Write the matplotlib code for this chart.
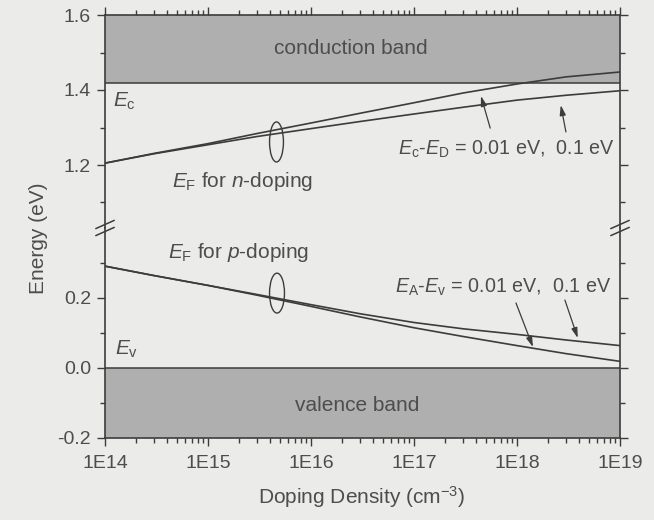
import numpy as np
import matplotlib
matplotlib.use("Agg")
import matplotlib.pyplot as plt
from matplotlib.patches import Ellipse
from matplotlib.lines import Line2D
from matplotlib.ticker import LogLocator, FixedLocator, NullFormatter, FuncFormatter

# -------------------------
# Data
# -------------------------
doping = [1e14, 3e14, 1e15, 3e15, 1e16, 3e16, 1e17, 3e17, 1e18, 3e18, 1e19]

ef_n_001 = [1.205, 1.231, 1.257, 1.284, 1.312, 1.338, 1.366, 1.392, 1.416, 1.435, 1.448]
ef_n_01 = [1.205, 1.230, 1.254, 1.276, 1.297, 1.316, 1.336, 1.354, 1.373, 1.386, 1.398]

ef_p_001 = [0.291, 0.264, 0.236, 0.208, 0.176, 0.146, 0.115, 0.090, 0.064, 0.041, 0.019]
ef_p_01 = [0.291, 0.264, 0.236, 0.210, 0.181, 0.155, 0.130, 0.112, 0.096, 0.080, 0.064]

E_c = 1.42
E_v = 0.0
top_ylim = (1.032, 1.6)
bot_ylim = (-0.2, 0.4)
xlim = (1e14, 1e19)

# -------------------------
# Style
# -------------------------
plt.rcParams['font.family'] = ['Liberation Sans', 'DejaVu Sans']
plt.rcParams['mathtext.fontset'] = 'custom'
plt.rcParams['mathtext.rm'] = 'Liberation Sans'
plt.rcParams['mathtext.it'] = 'Liberation Sans:italic'
plt.rcParams['mathtext.bf'] = 'Liberation Sans:bold'

bg = '#ebebea'
band = '#afafaf'
ink = '#3c3c3c'
txt = '#4d4d4d'

fig = plt.figure(figsize=(6.54, 5.2), dpi=100, facecolor=bg)
L, W = 105 / 654, 515 / 654
ax_t = fig.add_axes([L, 1 - 228 / 520, W, 213 / 520], facecolor=bg)
ax_b = fig.add_axes([L, 1 - 438 / 520, W, 210 / 520], facecolor=bg)

for ax, ylim in ((ax_t, top_ylim), (ax_b, bot_ylim)):
    ax.set_xscale('log')
    ax.set_xlim(*xlim)
    ax.set_ylim(*ylim)
    for s in ax.spines.values():
        s.set_color(ink)
        s.set_linewidth(1.2)
    ax.tick_params(which='both', direction='out', colors=ink, labelcolor=txt,
                   labelsize=14, right=True, width=1.0)
    ax.tick_params(which='major', length=6, pad=4)
    ax.tick_params(which='minor', length=3.5)
    ax.xaxis.set_major_locator(LogLocator(base=10, numticks=10))
    ax.xaxis.set_minor_locator(LogLocator(base=10, subs=np.arange(2, 10), numticks=20))
    ax.xaxis.set_minor_formatter(NullFormatter())

# top panel
ax_t.spines['bottom'].set_visible(False)
ax_t.tick_params(which='both', bottom=False, labelbottom=False, top=True, labeltop=False)
ax_t.yaxis.set_major_locator(FixedLocator([1.2, 1.4, 1.6]))
ax_t.yaxis.set_minor_locator(FixedLocator([1.1, 1.3, 1.5]))
ax_t.yaxis.set_major_formatter(FuncFormatter(lambda v, p: f'{v:.1f}'))

# bottom panel
ax_b.spines['top'].set_visible(False)
ax_b.tick_params(which='both', top=False)
ax_b.tick_params(axis='x', which='major', pad=6)
ax_b.yaxis.set_major_locator(FixedLocator([-0.2, 0.0, 0.2]))
ax_b.yaxis.set_minor_locator(FixedLocator([-0.1, 0.1, 0.3]))
ax_b.yaxis.set_major_formatter(FuncFormatter(lambda v, p: f'{v:.1f}'))
ax_b.xaxis.set_major_formatter(FuncFormatter(lambda v, p: f'1E{int(round(np.log10(v)))}'))

# bands
ax_t.axhspan(E_c, top_ylim[1], color=band, lw=0)
ax_t.axhline(E_c, color=ink, lw=1.1)
ax_b.axhspan(bot_ylim[0], E_v, color=band, lw=0)
ax_b.axhline(E_v, color=ink, lw=1.1)

# Fermi level curves
ax_t.plot(doping, ef_n_001, color=ink, lw=1.2)
ax_t.plot(doping, ef_n_01, color=ink, lw=1.2)
ax_b.plot(doping, ef_p_001, color=ink, lw=1.2)
ax_b.plot(doping, ef_p_01, color=ink, lw=1.2)

# text
fs = 15
ax_t.text(0.478, 0.845, 'conduction band', transform=ax_t.transAxes, ha='center',
          va='center', fontsize=fs, color=txt)
ax_b.text(0.49, 0.157, 'valence band', transform=ax_b.transAxes, ha='center',
          va='center', fontsize=fs, color=txt)
ax_t.text(0.016, 0.568, r'$E_\mathrm{c}$', transform=ax_t.transAxes, ha='left',
          va='baseline', fontsize=fs, color=txt)
ax_b.text(0.019, 0.395, r'$E_\mathrm{v}$', transform=ax_b.transAxes, ha='left',
          va='baseline', fontsize=fs, color=txt)
ax_t.text(0.130, 0.192, r'$E_\mathrm{F}$ for $n$-doping', transform=ax_t.transAxes,
          ha='left', va='baseline', fontsize=fs, color=txt)
ax_b.text(0.122, 0.857, r'$E_\mathrm{F}$ for $p$-doping', transform=ax_b.transAxes,
          ha='left', va='baseline', fontsize=fs, color=txt)
ax_t.text(0.569, 0.343, r'$E_\mathrm{c}$-$E_\mathrm{D}$ = 0.01 eV,  0.1 eV',
          transform=ax_t.transAxes, ha='left', va='baseline', fontsize=14.2, color=txt)
ax_b.text(0.563, 0.690, r'$E_\mathrm{A}$-$E_\mathrm{v}$ = 0.01 eV,  0.1 eV',
          transform=ax_b.transAxes, ha='left', va='baseline', fontsize=14.2, color=txt)

# arrows
aprops = dict(arrowstyle='-|>,head_length=0.6,head_width=0.18', color=ink, lw=0.9,
              shrinkA=0, shrinkB=0, mutation_scale=10)
ax_t.annotate('', xy=(0.730, 0.620), xytext=(0.748, 0.469), xycoords='axes fraction',
              arrowprops=aprops)
ax_t.annotate('', xy=(0.885, 0.577), xytext=(0.895, 0.451), xycoords='axes fraction',
              arrowprops=aprops)
ax_b.annotate('', xy=(0.831, 0.433), xytext=(0.798, 0.643), xycoords='axes fraction',
              arrowprops=aprops)
ax_b.annotate('', xy=(0.918, 0.476), xytext=(0.893, 0.657), xycoords='axes fraction',
              arrowprops=aprops)

# ellipses grouping the curves
ax_t.add_patch(Ellipse((0.333, 0.404), 0.027, 0.188, transform=ax_t.transAxes,
                       fill=False, ec=ink, lw=1.0))
ax_b.add_patch(Ellipse((0.334, 0.690), 0.029, 0.19, transform=ax_b.transAxes,
                       fill=False, ec=ink, lw=1.0))

# axis break marks
for xpx in (105, 620):
    for dy in (-3.5, 3.5):
        y0 = 228 + dy
        fig.add_artist(Line2D([(xpx - 9) / 654, (xpx + 9) / 654],
                              [1 - (y0 + 4) / 520, 1 - (y0 - 4) / 520],
                              transform=fig.transFigure, color=ink, lw=1.1))

# axis labels
fig.text(362 / 654, 1 - 497 / 520, 'Doping Density (cm$^{-3}$)', ha='center', va='center',
         fontsize=fs, color=txt)
fig.text(38 / 654, 1 - 238 / 520, 'Energy (eV)', ha='center', va='center', rotation=90,
         fontsize=fs, color=txt)

fig.savefig('out.png', dpi=100, facecolor=bg)
